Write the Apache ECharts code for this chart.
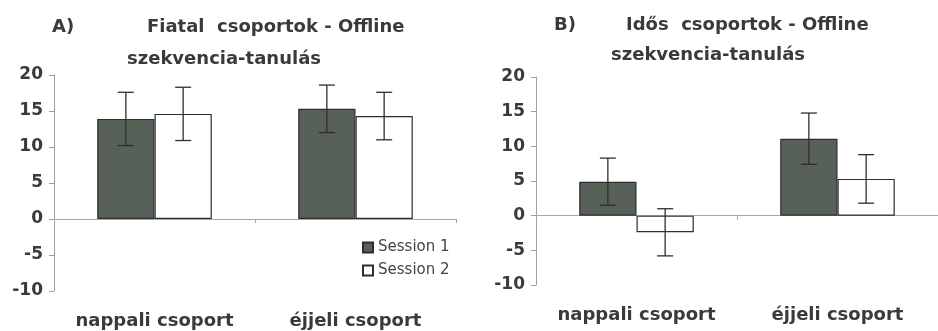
<!DOCTYPE html>
<html><head><meta charset="utf-8">
<script src="https://cdn.jsdelivr.net/npm/echarts@6/dist/echarts.min.js"></script>
<style>html,body{margin:0;padding:0;background:#fff}#c{width:938px;height:331px}</style>
</head><body><div id="c"></div>
<script>
const categories = ['nappali csoport', 'éjjeli csoport'];
const seriesNames = ['Session 1', 'Session 2'];
const youngS1 = [13.9, 15.3];
const youngS1Err = [3.7, 3.3];
const youngS2 = [14.6, 14.3];
const youngS2Err = [3.7, 3.3];
const oldS1 = [4.9, 11.1];
const oldS1Err = [3.4, 3.7];
const oldS2 = [-2.4, 5.3];
const oldS2Err = [3.4, 3.5];
const yTicks = [-10, -5, 0, 5, 10, 15, 20];

const TXT = '#3a3a3a';
const FONT = 'DejaVu Sans';
const DARK = '#586158';

const chart = echarts.init(document.getElementById('c'), null, {renderer: 'canvas'});

function grids() {
  return [
    {left: 54, top: 75, width: 402, height: 216},
    {left: 536, top: 77, width: 404, height: 208}
  ];
}
function xAxes() {
  const out = [];
  [0, 1].forEach(g => {
    out.push({
      type: 'category', gridIndex: g, data: categories, position: 'bottom',
      axisLine: {show: false, onZero: false}, axisTick: {show: false},
      axisLabel: {interval: 0, color: TXT, fontFamily: FONT, fontWeight: 'bold', fontSize: 18, margin: 21}
    });
    out.push({
      type: 'category', gridIndex: g, data: categories, position: 'bottom',
      axisLine: {show: true, onZero: true, lineStyle: {color: '#a8a8a8', width: 1}},
      axisTick: {show: true, length: 4, inside: false, lineStyle: {color: '#a8a8a8'}},
      axisLabel: {show: false}
    });
  });
  return out;
}
function yAxes() {
  return [0, 1].map(g => ({
    type: 'value', gridIndex: g, min: -10, max: 20, interval: 5,
    axisLine: {show: true, lineStyle: {color: '#a0a0a0', width: 1}},
    axisTick: {show: true, length: 5, lineStyle: {color: '#a0a0a0'}},
    splitLine: {show: false},
    axisLabel: {color: TXT, fontFamily: FONT, fontWeight: 'bold', fontSize: 17, margin: 11,
      formatter: v => yTicks.includes(v) ? String(v) : ''}
  }));
}
function barSeries(name, data, g, dark) {
  return {
    name: name, type: 'bar', xAxisIndex: g * 2, yAxisIndex: g, data: data,
    barWidth: '28.5%', barGap: '0%',
    itemStyle: {color: dark ? DARK : '#ffffff', borderColor: '#2e2e2e', borderWidth: 1.2},
    emphasis: {disabled: true}
  };
}
function errSeries(vals, errs, g, idx) {
  return {
    type: 'custom', xAxisIndex: g * 2, yAxisIndex: g, z: 10,
    data: vals.map((v, i) => [i, v - errs[i], v + errs[i]]),
    renderItem: function (params, api) {
      const i = api.value(0);
      const lo = api.coord([i, api.value(1)]);
      const hi = api.coord([i, api.value(2)]);
      const bw = api.size([1, 0])[0] * 0.285;
      const x = lo[0] + (idx === 0 ? -bw / 2 : bw / 2);
      const cap = 8;
      const st = {stroke: '#2e2e2e', lineWidth: 1.3};
      return {type: 'group', children: [
        {type: 'line', shape: {x1: x, y1: lo[1], x2: x, y2: hi[1]}, style: st},
        {type: 'line', shape: {x1: x - cap, y1: lo[1], x2: x + cap, y2: lo[1]}, style: st},
        {type: 'line', shape: {x1: x - cap, y1: hi[1], x2: x + cap, y2: hi[1]}, style: st}
      ]};
    }
  };
}
const titleStyle = {color: TXT, fontFamily: FONT, fontWeight: 'bold', fontSize: 18};
const option = {
  backgroundColor: '#ffffff',
  animation: false,
  title: [
    {text: 'A)', left: 47, top: 13, textStyle: titleStyle},
    {text: 'Fiatal  csoportok - Offline', left: 142, top: 13, textStyle: titleStyle},
    {text: 'szekvencia-tanulás', left: 122, top: 45, textStyle: titleStyle},
    {text: 'B)', left: 549, top: 11, textStyle: titleStyle},
    {text: 'Idős  csoportok - Offline', left: 621, top: 11, textStyle: titleStyle},
    {text: 'szekvencia-tanulás', left: 606, top: 41, textStyle: titleStyle}
  ],
  legend: {
    data: seriesNames, orient: 'vertical', left: 357, top: 235,
    icon: 'rect', itemWidth: 10, itemHeight: 10, itemGap: 8,
    textStyle: {color: '#444', fontFamily: FONT, fontSize: 15}
  },
  grid: grids(),
  xAxis: xAxes(),
  yAxis: yAxes(),
  series: [
    barSeries('Session 1', youngS1, 0, true),
    barSeries('Session 2', youngS2, 0, false),
    barSeries('Session 1', oldS1, 1, true),
    barSeries('Session 2', oldS2, 1, false),
    errSeries(youngS1, youngS1Err, 0, 0),
    errSeries(youngS2, youngS2Err, 0, 1),
    errSeries(oldS1, oldS1Err, 1, 0),
    errSeries(oldS2, oldS2Err, 1, 1)
  ]
};
chart.setOption(option);
</script></body></html>
